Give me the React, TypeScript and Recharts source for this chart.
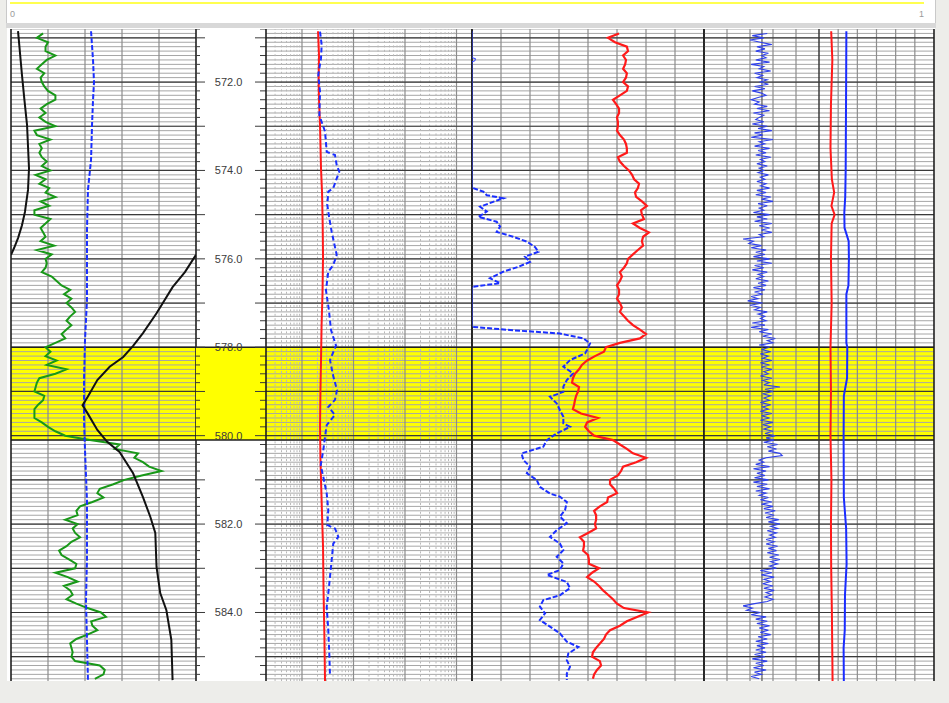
import React from "react";
import { ComposedChart, Line, XAxis, YAxis, ReferenceLine, ReferenceArea } from "recharts";

type Pair = [number, number];

// ---------- depth frame ----------
const DEPTH_TOP = 570.8;
const DEPTH_BOTTOM = 585.55;
const ZONE_TOP = 578.0;
const ZONE_BOTTOM = 580.1;
const SAMPLE_START = 570.9;
const SAMPLE_STEP = 0.1;
const FINE_STEP = 0.05;

// ---------- track 1 ----------
const gammaRay = [
  26, 21, 30, 28, 28, 36, 29, 25, 21, 27,
  24, 25, 27, 30, 36, 36, 29, 24, 28, 23,
  28, 36, 19, 21, 32, 23, 25, 23, 25, 29,
  25, 32, 20, 28, 23, 31, 28, 36, 24, 31,
  19, 19, 32, 28, 24, 26, 28, 24, 35, 21,
  33, 28, 29, 28, 25, 33, 37, 41, 48, 43,
  49, 45, 49, 52, 48, 45, 49, 45, 41, 44,
  36, 28, 32, 28, 37, 29, 45, 36, 23, 21,
  20, 19, 27, 26, 22, 19, 19, 19, 25, 30,
  36, 44, 64, 88, 84, 103, 100, 107, 112, 122,
  106, 92, 83, 72, 70, 75, 66, 56, 53, 54,
  44, 54, 50, 52, 56, 49, 45, 39, 41, 47,
  53, 52, 36, 46, 54, 43, 48, 50, 45, 53,
  62, 73, 77, 65, 66, 70, 62, 53, 48, 49,
  50, 49, 52, 72, 76, 75, 68,
];
const spCurve: Pair[] = [
  [570.85, 64.9], [571.5, 66.5], [572.0, 67.3], [572.41, 66.5], [572.97, 65.7], [573.76, 64.9],
  [574.44, 62.4], [575.35, 61.6], [576.93, 61.6], [577.84, 60.0], [578.74, 59.2], [579.65, 59.2],
  [580.33, 60.0], [581.46, 61.6], [582.81, 61.6], [583.72, 60.8], [584.62, 61.6], [585.53, 62.4],
];
const caliperMain: Pair[] = [
  [570.85, 5.7], [571.84, 8.9], [572.41, 10.9], [572.97, 13.0], [573.95, 14.6], [574.44, 13.8],
  [574.94, 11.3], [575.24, 8.9], [575.53, 5.7], [575.76, 2.4], [575.91, 0],
];
const caliperBackup: Pair[] = [
  [575.91, 150], [576.3, 141], [576.64, 131], [577.23, 118], [577.68, 107], [577.97, 99],
  [578.22, 91], [578.44, 80], [578.74, 70], [579.13, 62], [579.31, 58], [579.49, 62],
  [579.87, 70], [580.14, 78], [580.37, 88], [580.85, 99], [581.39, 107], [581.84, 113],
  [582.2, 117], [582.97, 118], [583.56, 121], [583.95, 126], [584.62, 130], [585.53, 131],
];

// ---------- track 3 (log) ----------
const deepRes: Pair[] = [
  [570.85, 2.05], [571.4, 2.14], [572.0, 2.1], [572.4, 2.14], [573.0, 2.24], [573.95, 2.34],
  [574.5, 2.45], [575.2, 2.52], [575.95, 2.56], [576.8, 2.5], [577.5, 2.4], [578.3, 2.34],
  [579.0, 2.28], [579.8, 2.24], [580.5, 2.28], [581.0, 2.34], [581.8, 2.45], [582.5, 2.56],
  [583.5, 2.62], [584.5, 2.72], [585.55, 2.8],
];
const shallowRes: Pair[] = [
  [570.86, 2.24], [571.16, 2.41], [571.46, 2.34], [571.84, 2.07], [572.22, 2.24], [572.75, 2.17],
  [573.12, 2.8], [573.58, 3.02], [573.65, 4.37], [573.88, 4.72], [574.03, 5.3], [574.18, 4.72],
  [574.4, 4.05], [574.48, 3.24], [574.78, 3.1], [575.08, 3.39], [575.39, 3.77], [575.91, 4.72],
  [576.14, 4.05], [576.29, 3.24], [576.71, 2.92], [577.16, 3.33], [577.61, 3.66], [577.96, 4.57],
  [578.29, 3.5], [578.63, 4.0], [578.97, 4.78], [579.19, 4.37], [579.35, 3.24], [579.53, 4.37],
  [579.76, 3.02], [580.02, 2.8], [580.33, 2.59], [580.67, 2.31], [580.93, 2.59], [581.31, 3.02],
  [581.68, 3.24], [582.02, 3.1], [582.1, 4.37], [582.29, 5.07], [582.44, 4.05], [582.81, 3.77],
  [583.19, 3.5], [583.57, 3.24], [583.87, 3.02], [584.4, 3.24], [584.93, 3.39], [585.45, 3.5],
];

// ---------- track 4 ----------
const densityLog = [
  50.7, 46.9, 49.3, 53.4, 53.8, 52.1, 53.1, 52.8, 52.1, 53.4,
  53.1, 52.1, 53.8, 53.4, 51.0, 48.6, 49.7, 50.7, 50.7, 50.0,
  50.3, 50.3, 50.0, 51.0, 52.4, 53.1, 53.4, 53.4, 50.3, 51.0,
  52.4, 54.1, 55.2, 55.9, 57.6, 57.2, 56.2, 56.6, 58.6, 60.3,
  58.3, 58.6, 59.3, 55.5, 57.9, 61.0, 59.0, 58.6, 59.0, 57.2,
  55.5, 53.8, 53.4, 52.4, 51.0, 51.7, 51.0, 50.0, 50.7, 50.7,
  50.0, 51.0, 51.7, 51.0, 52.4, 53.8, 55.5, 57.9, 60.0, 57.9,
  51.0, 46.2, 45.5, 42.4, 39.7, 37.9, 36.9, 35.5, 34.8, 34.5,
  36.9, 36.6, 35.9, 35.5, 35.2, 34.8, 37.6, 43.4, 39.7, 39.0,
  40.3, 42.1, 48.6, 51.0, 53.4, 55.5, 60.0, 56.6, 52.1, 51.4,
  50.3, 47.6, 47.6, 49.0, 50.0, 46.9, 46.6, 44.1, 42.1, 42.8,
  42.8, 42.4, 42.8, 40.0, 37.2, 38.6, 38.6, 38.3, 40.0, 40.3,
  40.3, 43.8, 41.4, 39.7, 42.1, 43.8, 45.2, 46.9, 48.6, 50.0,
  52.4, 60.7, 56.9, 53.4, 51.0, 47.6, 46.2, 45.5, 44.1, 42.8,
  41.7, 41.4, 44.1, 44.5, 43.1, 42.1, 41.7,
];
const neutronEdgeUpper: Pair[] = [
  [570.85, 0], [571.45, 0], [571.47, 1.2], [571.52, 1.0], [571.54, 0], [574.4, 0],
];
const neutronEdgeMiddle: Pair[] = [[576.63, 0], [577.54, 0]];
const neutronUpper: Pair[] = [
  [574.4, 0.4], [574.48, 3.9], [574.56, 5.1], [574.63, 10.8], [574.71, 7.3], [574.82, 2.8],
  [574.93, 5.1], [575.05, 2.2], [575.16, 8.5], [575.27, 9.7], [575.39, 8.5], [575.5, 14.2],
  [575.61, 18.9], [575.73, 21.7], [575.84, 22.9], [575.95, 18.3], [576.07, 20.0], [576.18, 16.0],
  [576.29, 10.8], [576.44, 6.2], [576.55, 9.7], [576.63, 0.4],
];
const neutronLower: Pair[] = [
  [577.54, 0.4], [577.61, 13.1], [577.69, 30.3], [577.8, 38.4], [577.91, 40.7], [578.02, 40.0],
  [578.14, 39.0], [578.29, 33.8], [578.44, 31.5], [578.59, 34.9], [578.74, 32.7], [578.89, 31.5],
  [579.01, 31.5], [579.12, 26.9], [579.27, 29.2], [579.42, 30.3], [579.57, 31.5], [579.72, 31.5],
  [579.8, 33.8], [579.95, 29.2], [580.1, 25.8], [580.25, 24.6], [580.4, 17.1], [580.55, 17.7],
  [580.7, 20.0], [580.85, 18.9], [581.0, 22.3], [581.16, 23.4], [581.31, 26.9], [581.38, 30.3],
  [581.5, 32.7], [581.68, 32.1], [581.83, 30.3], [581.98, 32.7], [582.14, 29.2], [582.29, 26.9],
  [582.44, 30.3], [582.59, 31.5], [582.74, 29.2], [582.89, 31.5], [583.04, 30.3], [583.15, 25.8],
  [583.31, 32.7], [583.45, 33.8], [583.61, 30.3], [583.72, 24.6], [583.87, 23.4], [584.02, 25.2],
  [584.17, 23.4], [584.32, 26.9], [584.47, 30.3], [584.66, 32.7], [584.78, 36.7], [584.93, 33.2],
  [585.08, 32.7], [585.23, 33.8], [585.38, 32.7], [585.53, 32.7],
];

// ---------- track 5 ----------
const sonicLog = [
  27.5, 21.0, 26.0, 20.0, 24.5, 29.5, 23.0, 26.5, 22.5, 28.0,
  25.0, 27.0, 22.5, 28.5, 20.5, 26.0, 24.0, 29.0, 22.0, 25.5,
  23.0, 27.5, 24.5, 28.0, 22.0, 26.5, 21.0, 25.0, 27.0, 23.5,
  20.5, 24.0, 22.0, 27.5, 23.0, 28.5, 21.5, 26.0, 24.0, 22.5,
  26.0, 21.0, 27.5, 23.5, 29.5, 22.0, 25.5, 20.5, 30.0, 24.0,
  26.5, 22.0, 28.5, 23.5, 27.0, 22.5, 29.0, 24.5, 26.5, 23.0,
  27.5, 24.0, 26.0, 23.5, 28.0, 24.5, 26.5, 23.0, 27.0, 24.5,
  28.5, 23.0, 27.0, 22.5, 29.0, 25.0, 30.0, 23.5, 27.5, 24.0,
  26.0, 21.5, 28.5, 23.0, 27.5, 22.0, 29.5, 24.0, 28.5, 25.0,
  29.5, 24.0, 26.0, 17.0, 21.5, 19.5, 25.0, 20.5, 27.0, 22.5,
  26.5, 21.5, 28.5, 23.0, 29.5, 22.0, 26.0, 21.0, 27.5, 23.5,
  26.0, 22.5, 28.0, 23.5, 27.0, 21.5, 26.5, 22.0, 25.5, 20.5,
  23.5, 19.0, 25.5, 20.0, 24.5, 22.0, 27.5, 23.5, 26.5, 24.5,
  27.0, 21.0, 26.5, 20.5, 28.0, 24.0, 29.5, 25.5, 31.0, 27.5,
  30.0, 24.0, 28.5, 25.0, 29.0, 24.5, 28.0, 25.5, 29.5, 24.5,
  28.5, 25.0, 29.5, 26.0, 28.0, 24.5, 29.5, 25.5, 28.5, 26.0,
  33.0, 26.5, 30.0, 25.5, 29.0, 26.0, 28.5, 24.5, 29.0, 25.5,
  28.0, 24.5, 29.5, 25.0, 28.5, 24.5, 30.0, 25.5, 29.0, 26.0,
  30.0, 26.5, 31.0, 27.0, 30.5, 26.0, 32.0, 27.5, 31.5, 28.0,
  33.0, 34.0, 27.0, 24.0, 26.0, 22.5, 28.5, 21.5, 27.0, 23.0,
  26.5, 22.0, 28.0, 21.5, 27.5, 23.0, 28.5, 22.5, 27.0, 24.0,
  28.0, 24.5, 29.5, 25.0, 30.0, 26.0, 31.0, 26.5, 30.5, 27.0,
  32.5, 28.0, 33.0, 29.0, 32.0, 27.5, 31.5, 28.5, 31.0, 27.0,
  30.5, 27.0, 32.0, 28.0, 31.5, 27.5, 32.5, 28.5, 33.0, 29.0,
  32.0, 28.5, 31.5, 24.5, 29.5, 25.0, 30.5, 26.0, 29.0, 25.5,
  30.0, 26.0, 30.5, 27.0, 29.5, 26.5, 30.0, 27.5, 22.0, 17.0,
  21.0, 18.5, 24.5, 20.5, 27.0, 22.5, 27.5, 23.0, 28.5, 24.0,
  28.0, 24.5, 29.0, 23.5, 27.5, 22.5, 28.0, 23.0, 26.5, 22.5,
  27.0, 22.0, 26.5, 21.0, 27.5, 22.5, 26.0, 21.5, 27.0, 22.0,
  25.0, 20.5, 24.0,
];
const tempLog: Pair[] = [
  [570.85, 55.3], [571.5, 55.8], [572.5, 55.2], [573.5, 55.0], [574.2, 55.6], [574.5, 56.6],
  [574.8, 55.4], [575.0, 56.8], [575.2, 55.5], [576.0, 55.2], [577.0, 55.5], [578.0, 55.0],
  [579.0, 55.2], [580.0, 55.0], [581.0, 55.4], [582.0, 55.2], [583.0, 55.3], [584.0, 55.6],
  [585.0, 55.8], [585.55, 55.9],
];
const condLog: Pair[] = [
  [570.85, 61.9], [572.0, 61.8], [573.0, 61.7], [574.0, 61.6], [574.6, 61.4], [574.95, 61.0],
  [575.3, 61.1], [575.6, 62.9], [576.0, 63.0], [576.6, 62.8], [576.8, 61.9], [577.9, 61.9],
  [578.0, 62.3], [578.7, 62.2], [579.1, 60.8], [580.0, 60.7], [581.4, 60.8], [582.1, 61.8],
  [582.9, 62.0], [583.6, 61.3], [584.4, 61.2], [584.8, 60.7], [585.55, 60.8],
];

// ---------- grid / tick values ----------
const round2 = (n: number) => Math.round(n * 100) / 100;
const stepValues = (start: number, end: number, step: number) => {
  const out: number[] = [];
  for (let i = 0; ; i++) {
    const v = round2(start + i * step);
    if (v > end + 1e-6) break;
    out.push(v);
  }
  return out;
};
const minorDepths = stepValues(570.8, 585.5, 0.1);
const majorDepths = stepValues(571, 585, 1);
const tickDepths = stepValues(570.8, 585.4, 0.2);
const labelDepths = [572, 574, 576, 578, 580, 582, 584];

const t1Domain = [0, 150];
const t1Inner = [30, 60, 90, 120];
const depthDomain = [0, 70];
const t3Domain = [0.2, 2000];
const t3Decades = [1, 10, 100, 1000];
const t3Minor = [0.3, 0.4, 0.5, 0.6, 0.7, 0.8, 0.9, 2, 3, 4, 5, 6, 7, 8, 9, 20, 30, 40, 50, 60, 70, 80, 90, 200, 300, 400, 500, 600, 700, 800, 900];
const t4Domain = [0, 80];
const t4Inner = [10, 20, 30, 40, 50, 60, 70];
const t5Domain = [0, 100];
const t5Inner = [10, 20, 30, 40, 58.33, 66.67, 75, 83.33, 91.67];
const t5Split = [50];
const t5Cut = [25.2];

// ---------- helpers ----------
const seq = (vals: number[], start: number, step: number) => vals.map((v, i) => ({ d: round2(start + i * step), v }));
const pairs = (arr: Pair[]) => arr.map(([d, v]) => ({ d, v }));

const PLOT_TOP = 29;
const PLOT_H = 652;
const PAD = 2;
const FONT = "'Liberation Sans', Arial, sans-serif";

function Track({ left, right, domain, scale, children }: any) {
  const width = right - left;
  return (
    <div style={{ position: "absolute", left: left - PAD, top: PLOT_TOP }}>
      <ComposedChart layout="vertical" width={width + 2 * PAD} height={PLOT_H} margin={{ top: 0, right: PAD, bottom: 0, left: PAD }}>
        <XAxis type="number" hide domain={domain} scale={scale || "linear"} allowDataOverflow />
        <YAxis type="number" dataKey="d" hide domain={[DEPTH_TOP, DEPTH_BOTTOM]} allowDataOverflow />
        {children}
      </ComposedChart>
    </div>
  );
}

function zone(key: string) {
  return [
    <ReferenceArea key={key + "zone"} y1={ZONE_TOP} y2={ZONE_BOTTOM} fill="#ffff00" fillOpacity={1} stroke="none" />,
  ];
}

function backGrid(key: string, inner: number[], innerDash?: number[]) {
  const els: any[] = [...zone(key)];
  minorDepths.forEach((d) => els.push(<ReferenceLine key={`${key}n${d}`} y={d} stroke="#a6a6a6" strokeWidth={1} />));
  if (innerDash) innerDash.forEach((v) => els.push(<ReferenceLine key={`${key}dv${v}`} x={v} stroke="#b8b8b8" strokeWidth={1} strokeDasharray="2 2.4" />));
  inner.forEach((v) => els.push(<ReferenceLine key={`${key}v${v}`} x={v} stroke="#8c8c8c" strokeWidth={1.2} />));
  majorDepths.forEach((d) => els.push(<ReferenceLine key={`${key}M${d}`} y={d} stroke="#3a3a3a" strokeWidth={1.2} />));
  els.push(<ReferenceLine key={key + "zt"} y={ZONE_TOP} stroke="#222" strokeWidth={1.5} />);
  els.push(<ReferenceLine key={key + "zb"} y={ZONE_BOTTOM} stroke="#222" strokeWidth={1.5} />);
  return els;
}

function edges(key: string, vals: number[]) {
  return vals.map((v) => <ReferenceLine key={`${key}e${v}`} x={v} stroke="#1e1e1e" strokeWidth={1.6} />);
}

function depthTicks() {
  const els: any[] = [...zone("dp")];
  els.push(<ReferenceLine key="dpzt" y={ZONE_TOP} stroke="#222" strokeWidth={1.5} />);
  els.push(<ReferenceLine key="dpzb" y={ZONE_BOTTOM} stroke="#222" strokeWidth={1.5} />);
  tickDepths.forEach((d) => {
    const major = Math.abs(d - Math.round(d)) < 1e-6;
    const [lo, hi] = depthDomain;
    els.push(<ReferenceLine key={`dl${d}`} segment={[{ x: lo, y: d }, { x: lo + (major ? 9 : 4), y: d }]} stroke="#3a3a3a" strokeWidth={1} />);
    els.push(<ReferenceLine key={`dr${d}`} segment={[{ x: hi - (major ? 11 : 6), y: d }, { x: hi, y: d }]} stroke="#3a3a3a" strokeWidth={1} />);
  });
  labelDepths.forEach((d) =>
    els.push(
      <ReferenceLine
        key={`lab${d}`}
        y={d}
        stroke="none"
        label={(p: any) => {
          const vb = p.viewBox || {};
          const cx = (vb.x ?? 0) + (vb.width ?? 0) * 0.465;
          return (
            <text x={cx} y={vb.y} textAnchor="middle" dominantBaseline="central" fontSize={11} fontFamily={FONT} fill="#3c3c3c">
              {d.toFixed(1)}
            </text>
          );
        }}
      />
    )
  );
  return els;
}

const lineBase = { dataKey: "v", dot: false, isAnimationActive: false, type: "linear" as const, activeDot: false };

export default function App() {
  return (
    <div style={{ position: "absolute", left: 0, top: 0, width: 949, height: 703, background: "#ededea", overflow: "hidden", fontFamily: FONT }}>
      {/* header strip */}
      <div style={{ position: "absolute", left: 6, top: 0, width: 928, height: 23, background: "#ffffff", borderLeft: "1px solid #c9c9c9", borderRight: "1px solid #c9c9c9" }} />
      <div style={{ position: "absolute", left: 10, top: 2, width: 914, height: 2, background: "#ffff50" }} />
      <span style={{ position: "absolute", left: 10, top: 9, fontSize: 9, lineHeight: "10px", color: "#9a9a9a" }}>0</span>
      <span style={{ position: "absolute", left: 919, top: 9, fontSize: 9, lineHeight: "10px", color: "#9a9a9a" }}>1</span>
      <div style={{ position: "absolute", left: 6, top: 23, width: 930, height: 5, background: "#d8d8d8" }} />
      <div style={{ position: "absolute", left: 7, top: 28, width: 928, height: 653, background: "#ffffff" }} />

      {/* Track 1 */}
      <Track left={11} right={196} domain={t1Domain}>
        {backGrid("t1", t1Inner)}
        {edges("t1", t1Domain)}
        <Line {...lineBase} data={seq(gammaRay, SAMPLE_START, SAMPLE_STEP)} stroke="#189818" strokeWidth={2} />
        <Line {...lineBase} data={pairs(spCurve)} stroke="#1a2fff" strokeWidth={2} strokeDasharray="5 2" />
        <Line {...lineBase} data={pairs(caliperMain)} stroke="#111111" strokeWidth={2} />
        <Line {...lineBase} data={pairs(caliperBackup)} stroke="#111111" strokeWidth={2} />
      </Track>

      {/* Depth track */}
      <Track left={196} right={266} domain={depthDomain}>
        {depthTicks()}
      </Track>

      {/* Track 3 (log) */}
      <Track left={266} right={472} domain={t3Domain} scale="log">
        {backGrid("t3", t3Decades, t3Minor)}
        {edges("t3", t3Domain)}
        <Line {...lineBase} data={pairs(deepRes)} stroke="#ff1a1a" strokeWidth={2} />
        <Line {...lineBase} data={pairs(shallowRes)} stroke="#1a2fff" strokeWidth={2} strokeDasharray="5 3" />
      </Track>

      {/* Track 4 */}
      <Track left={472} right={704} domain={t4Domain}>
        {backGrid("t4", t4Inner)}
        {edges("t4", t4Domain)}
        <Line {...lineBase} data={pairs(neutronEdgeUpper)} stroke="#2a3cff" strokeWidth={1} />
        <Line {...lineBase} data={pairs(neutronEdgeMiddle)} stroke="#2a3cff" strokeWidth={1} />
        <Line {...lineBase} data={pairs(neutronUpper)} stroke="#1a2fff" strokeWidth={2} strokeDasharray="5 2" />
        <Line {...lineBase} data={pairs(neutronLower)} stroke="#1a2fff" strokeWidth={2} strokeDasharray="5 2" />
        <Line {...lineBase} data={seq(densityLog, SAMPLE_START, SAMPLE_STEP)} stroke="#ff1a1a" strokeWidth={2.2} />
      </Track>

      {/* Track 5 */}
      <Track left={704} right={934} domain={t5Domain}>
        {backGrid("t5", t5Inner)}
        {t5Split.map((v) => <ReferenceLine key={"t5s" + v} x={v} stroke="#3a3a3a" strokeWidth={1.5} />)}
        {t5Cut.map((v) => <ReferenceLine key={"t5c" + v} x={v} stroke="#555555" strokeWidth={1.2} />)}
        {edges("t5", t5Domain)}
        <Line {...lineBase} data={seq(sonicLog, SAMPLE_START, FINE_STEP)} stroke="#2f40ea" strokeWidth={1.1} />
        <Line {...lineBase} data={pairs(tempLog)} stroke="#ff1a1a" strokeWidth={2} />
        <Line {...lineBase} data={pairs(condLog)} stroke="#1a2cff" strokeWidth={2} />
      </Track>
    </div>
  );
}
